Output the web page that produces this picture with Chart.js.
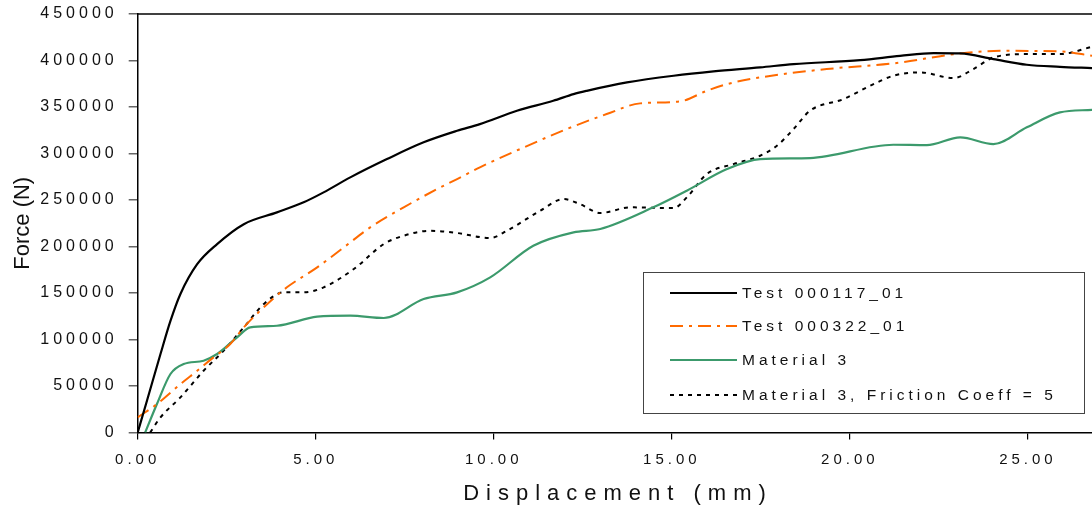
<!DOCTYPE html>
<html>
<head>
<meta charset="utf-8">
<script src="https://cdn.jsdelivr.net/npm/chart.js@4.4.1/dist/chart.umd.min.js"></script>
<style>
  html, body { margin: 0; padding: 0; background: #fff; }
  #wrap { width: 1092px; height: 512px; position: relative; }
</style>
</head>
<body>
<div id="wrap"><canvas id="forceChart"></canvas></div>
<script>
// Force vs displacement curves
const test117X = [0, 0.26, 0.64, 0.92, 1.2, 1.67, 2.23, 2.98, 3.91, 4.66, 5.22, 5.97, 7.0, 8.03, 8.97, 9.61, 10.65, 11.67, 12.24, 12.61, 13.74, 15.05, 16.17, 17.48, 18.42, 20.29, 21.41, 22.35, 23.1, 24.03, 24.97, 25.9, 26.8];
const test117Y = [0, 34200, 84400, 120000, 149000, 181000, 202600, 224000, 236700, 247500, 258200, 274300, 294000, 312000, 324400, 331600, 346000, 356700, 363900, 367400, 376400, 383600, 388300, 392600, 396100, 400400, 405000, 408000, 407600, 401500, 395400, 393200, 391800];

const test322X = [0, 0.54, 1.2, 1.67, 2.13, 2.6, 2.98, 3.54, 4.19, 5.04, 5.79, 6.53, 7.47, 8.41, 8.97, 9.61, 10.74, 12.05, 13.17, 14.11, 15.23, 15.98, 16.55, 17.48, 19.35, 21.22, 23.1, 24.22, 25.9, 26.8];
const test322Y = [16300, 30600, 52100, 66400, 80800, 95100, 113100, 134600, 156100, 177600, 199100, 220600, 242100, 261800, 272500, 285100, 304800, 326300, 342400, 353900, 356000, 367400, 374600, 381800, 390800, 396900, 407600, 410400, 409800, 405000];

const mat3X = [0.21, 0.54, 0.92, 1.29, 1.85, 2.23, 2.79, 3.16, 3.91, 5.04, 5.97, 6.91, 8.03, 8.97, 9.9, 11.11, 12.24, 12.99, 14.48, 15.42, 16.55, 17.48, 18.88, 21.22, 22.16, 23.1, 24.03, 24.97, 25.9, 26.8];
const mat3Y = [0, 30600, 62900, 73600, 77200, 84400, 102300, 113100, 114800, 124500, 125600, 123100, 143500, 150700, 166800, 200800, 215200, 218800, 242100, 260000, 283300, 294000, 295100, 309400, 309000, 317300, 310100, 328100, 344200, 347000];

const frictionX = [0.35, 0.64, 1.2, 1.85, 2.41, 2.98, 3.54, 4.1, 4.66, 5.22, 6.07, 6.91, 7.47, 8.22, 8.97, 9.9, 10.37, 11.3, 11.96, 12.42, 12.99, 13.83, 15.05, 15.42, 15.98, 16.73, 17.48, 17.95, 18.42, 18.88, 19.82, 20.57, 21.22, 21.97, 22.91, 23.47, 24.03, 24.97, 25.9, 26.8];
const frictionY = [0, 16300, 37800, 66400, 87900, 113100, 138100, 150700, 150700, 156100, 175800, 202600, 211600, 216900, 214500, 209100, 216900, 238400, 251000, 245600, 236000, 242100, 241300, 252800, 277900, 288600, 297600, 308300, 326300, 346000, 358500, 372800, 383600, 387200, 381100, 390800, 403300, 406900, 406900, 414700];

const seriesNames = ['Test 000117_01', 'Test 000322_01', 'Material 3', 'Material 3, Friction Coeff = 5'];
const xTicks = [0, 5, 10, 15, 20, 25];
const yTicks = [0, 50000, 100000, 150000, 200000, 250000, 300000, 350000, 400000, 450000];

const FONT = "'Liberation Sans', Arial, sans-serif";

function pts(xs, ys) { return xs.map((x, i) => ({ x, y: ys[i] })); }

const styles = [
  { color: '#000000', width: 2.2, dash: [] },
  { color: '#ff6a00', width: 2, dash: [13, 6, 3, 6] },
  { color: '#3c9a6c', width: 2.2, dash: [] },
  { color: '#000000', width: 2, dash: [4, 5] }
];

const datasets = [
  pts(test117X, test117Y), pts(test322X, test322Y), pts(mat3X, mat3Y), pts(frictionX, frictionY)
].map((data, i) => ({
  label: seriesNames[i],
  data,
  showLine: true,
  borderColor: styles[i].color,
  borderWidth: styles[i].width,
  borderDash: styles[i].dash,
  pointRadius: 0,
  fill: false,
  cubicInterpolationMode: 'monotone'
}));

// titles, frame top and the boxed legend
const decor = {
  id: 'decor',
  beforeDraw(chart) {
    chart.ctx.letterSpacing = '4px';
  },
  afterDraw(chart) {
    const { ctx, chartArea: a } = chart;
    ctx.save();
    // top frame line
    ctx.strokeStyle = '#000';
    ctx.lineWidth = 1.5;
    ctx.beginPath(); ctx.moveTo(a.left, a.top); ctx.lineTo(a.right, a.top); ctx.stroke();

    // axis titles
    ctx.fillStyle = '#111';
    ctx.font = '22px ' + FONT;
    ctx.letterSpacing = '7px';
    ctx.textAlign = 'center';
    ctx.textBaseline = 'middle';
    ctx.fillText('Displacement (mm)', 618, 494);
    ctx.letterSpacing = '0px';
    ctx.save();
    ctx.translate(23, (a.top + a.bottom) / 2);
    ctx.rotate(-Math.PI / 2);
    ctx.fillText('Force (N)', 0, 0);
    ctx.restore();

    // legend
    const bx = 643, by = 272, bw = 441, bh = 141;
    ctx.fillStyle = '#fff';
    ctx.fillRect(bx, by, bw, bh);
    ctx.strokeStyle = '#444';
    ctx.lineWidth = 1;
    ctx.strokeRect(bx + 0.5, by + 0.5, bw, bh);
    const rows = [293, 326, 360, 395];
    ctx.font = '15.5px ' + FONT;
    ctx.letterSpacing = '4px';
    ctx.textAlign = 'left';
    seriesNames.forEach((name, i) => {
      const s = styles[i];
      ctx.strokeStyle = s.color;
      ctx.lineWidth = s.width;
      ctx.setLineDash(s.dash);
      ctx.beginPath(); ctx.moveTo(670, rows[i]); ctx.lineTo(737, rows[i]); ctx.stroke();
      ctx.setLineDash([]);
      ctx.fillStyle = '#111';
      ctx.fillText(name, 742, rows[i] + 1);
    });
    ctx.restore();
  }
};

new Chart(document.getElementById('forceChart'), {
  type: 'scatter',
  data: { datasets },
  options: {
    responsive: true, maintainAspectRatio: false, animation: false,
    layout: { padding: { top: 14, right: 0, left: 0, bottom: 0 } },
    plugins: { legend: { display: false }, tooltip: { enabled: false } },
    scales: {
      x: {
        type: 'linear', min: 0, max: 26.8,
        afterFit: s => { s.height = 79.5; s.paddingLeft = 0; s.paddingRight = 0; },
        afterBuildTicks: s => { s.ticks = xTicks.map(v => ({ value: v })); },
        ticks: { includeBounds: false, autoSkip: false, maxRotation: 0, padding: 11, color: '#111',
          font: { family: FONT, size: 15 }, callback: v => Number(v).toFixed(2) },
        grid: { drawOnChartArea: false, drawTicks: true, tickLength: 7, color: '#000', lineWidth: 1.2 },
        border: { color: '#000', width: 1.5 }
      },
      y: {
        min: 0, max: 450000,
        afterFit: s => { s.width = 137.7; s.paddingTop = 0; s.paddingBottom = 0; },
        afterBuildTicks: s => { s.ticks = yTicks.map(v => ({ value: v })); },
        ticks: { autoSkip: false, padding: 11, color: '#111',
          font: { family: FONT, size: 16 }, callback: v => String(v) },
        grid: { drawOnChartArea: false, drawTicks: true, tickLength: 9, color: '#666', lineWidth: 1.5 },
        border: { color: '#000', width: 1.5 }
      }
    }
  },
  plugins: [decor]
});
</script>
</body>
</html>
